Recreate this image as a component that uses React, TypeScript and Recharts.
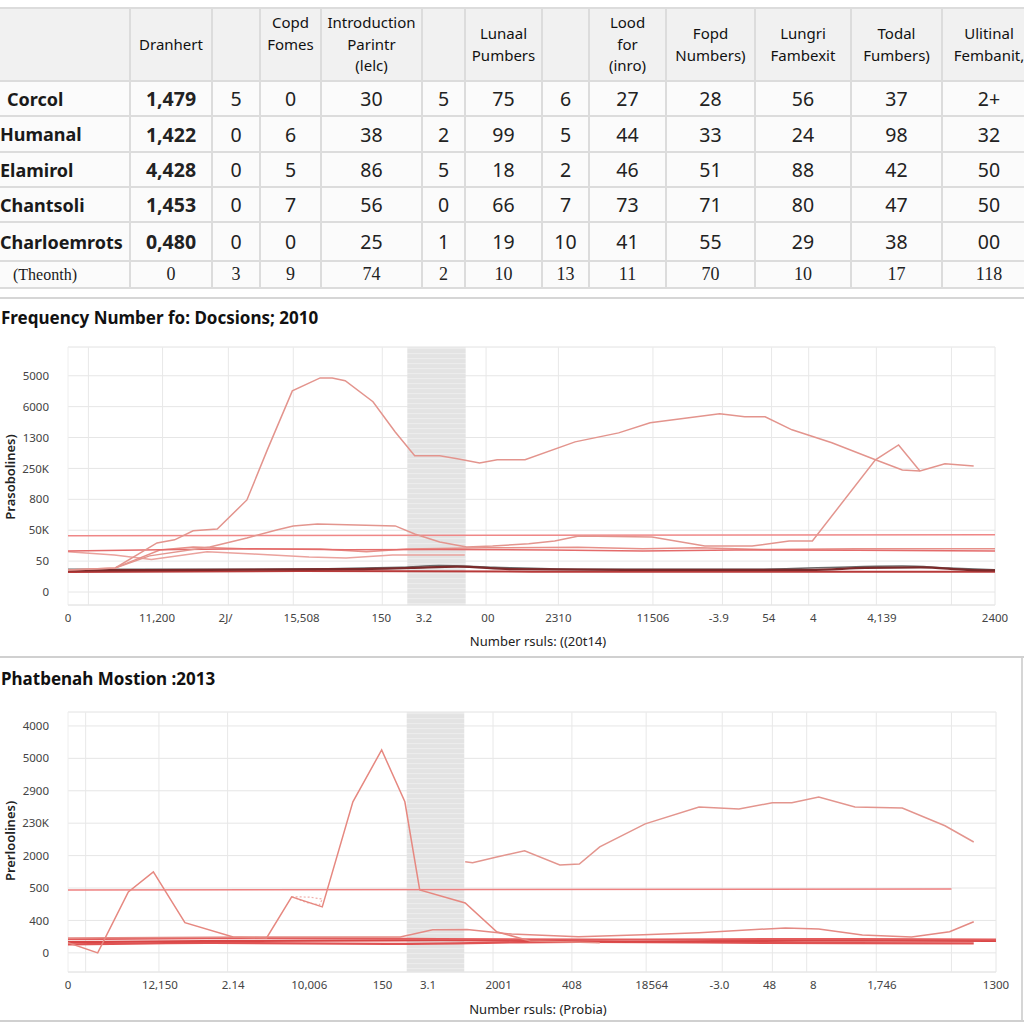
import React from 'react';
import { LineChart, Line, XAxis, YAxis, CartesianGrid, ReferenceLine, ReferenceArea } from 'recharts';

// ---------- table data ----------
const tableHeaders = ["", "Dranhert", "", "Copd\nFomes\n\u00a0", "Introduction\nParintr\n(lelc)", "", "Lunaal\nPumbers", "", "Lood\nfor\n(inro)", "Fopd\nNumbers)", "Lungri\nFambexit", "Todal\nFumbers)", "Ulitinal\nFembanit,"];
const rowLabels = ["Corcol", "Humanal", "Elamirol", "Chantsoli", "Charloemrots", "(Theonth)"];
const rowValues = [
  ["1,479", "5", "0", "30", "5", "75", "6", "27", "28", "56", "37", "2+"],
  ["1,422", "0", "6", "38", "2", "99", "5", "44", "33", "24", "98", "32"],
  ["4,428", "0", "5", "86", "5", "18", "2", "46", "51", "88", "42", "50"],
  ["1,453", "0", "7", "56", "0", "66", "7", "73", "71", "80", "47", "50"],
  ["0,480", "0", "0", "25", "1", "19", "10", "41", "55", "29", "38", "00"],
  ["0", "3", "9", "74", "2", "10", "13", "11", "70", "10", "17", "118"],
];

// ---------- chart 1 data ----------
const c1Title = "Frequency Number fo: Docsions; 2010";
const c1XLabel = "Number rsuls: ((20t14)";
const c1YLabel = "Prasobolines)";
const c1YTickLabels = ["0", "50", "50K", "800", "250K", "1300", "6000", "5000"];
const c1XTickValues = [0, 9.6, 17.0, 25.2, 33.8, 38.4, 45.3, 52.9, 63.1, 70.2, 75.6, 80.4, 87.8, 100];
const c1XTickLabels = ["0", "11,200", "2J/", "15,508", "150", "3.2", "00", "2310", "11506", "-3.9", "54", "4", "4,139", "2400"];
const c1GridX = [2.2, 10.2, 17.3, 24.3, 33.9, 45.1, 52.9, 63.1, 70.6, 75.9, 79.9, 87.2, 95.3];
const c1Band = [36.6, 42.9];

const c1Peak = [[0, 0.71], [5.1, 0.78], [9.6, 1.59], [11.5, 1.69], [13.5, 1.98], [16.1, 2.04], [19.3, 2.98], [21.5, 4.6], [24.2, 6.51], [27.2, 6.93], [28.5, 6.93], [29.9, 6.84], [32.9, 6.16], [35.3, 5.18], [37.4, 4.41], [40.1, 4.41], [42.0, 4.31], [44.4, 4.18], [46.3, 4.28], [49.3, 4.28], [54.7, 4.86], [59.4, 5.15], [62.8, 5.48], [70.3, 5.77], [73.0, 5.67], [75.2, 5.67], [78.1, 5.25], [82.4, 4.83], [87.1, 4.28], [90.0, 3.95], [91.9, 3.92], [94.6, 4.15], [97.7, 4.08]];
const c1Hump = [[0, 0.71], [5.1, 0.78], [8.8, 1.17], [15.3, 1.46], [19.3, 1.75], [22.5, 2.01], [24.3, 2.14], [26.9, 2.2], [35.3, 2.14], [37.4, 1.88], [40.1, 1.62], [43.0, 1.46], [45.8, 1.49], [49.7, 1.56], [52.5, 1.65], [55.1, 1.81], [63.0, 1.78], [68.7, 1.49], [73.8, 1.49], [77.8, 1.65], [80.3, 1.65], [87.1, 4.28], [89.6, 4.76], [91.9, 3.92]];
const c1FlatTop = [[0, 1.82], [100, 1.85]];
const c1FlatMid = [[0, 1.33], [12, 1.38], [20, 1.4], [30, 1.37], [40, 1.38], [52, 1.36], [62, 1.33], [72, 1.36], [85, 1.35], [100, 1.33]];
const c1RiseLow = [[5.1, 0.78], [9.9, 1.36], [13.5, 1.46], [19.7, 1.39], [27.2, 1.39], [32.2, 1.3], [36.6, 1.39], [45, 1.43], [55, 1.45], [62, 1.4], [68, 1.43], [75, 1.38], [85, 1.4], [100, 1.4]];
const c1Wavy = [[0, 1.3], [5, 1.2], [9, 1.05], [15, 1.3], [20, 1.23], [26, 1.13], [30, 1.1], [35, 1.2], [42.8, 1.2]];
const c1Dark1 = [[0, 0.7], [15, 0.72], [30, 0.74], [37, 0.78], [42, 0.82], [48, 0.74], [60, 0.72], [80, 0.72], [86, 0.78], [92, 0.8], [97, 0.72], [100, 0.7]];
const c1Dark2 = [[0, 0.74], [20, 0.74], [36, 0.8], [40, 0.86], [46, 0.8], [55, 0.74], [75, 0.74], [85, 0.82], [90, 0.84], [95, 0.78], [100, 0.72]];
const c1Dark3 = [[0, 0.65], [25, 0.68], [50, 0.66], [75, 0.66], [100, 0.66]];

// ---------- chart 2 data ----------
const c2Title = "Phatbenah Mostion :2013";
const c2XLabel = "Number rsuls: (Probia)";
const c2YLabel = "Prerloolines)";
const c2YTickLabels = ["0", "400", "500", "2000", "230K", "2900", "5000", "4000"];
const c2XTickValues = [0, 9.9, 17.8, 26.0, 33.9, 38.8, 46.4, 54.3, 62.9, 70.2, 75.6, 80.3, 87.7, 100];
const c2XTickLabels = ["0", "12,150", "2.14", "10,006", "150", "3.1", "2001", "408", "18564", "-3.0", "48", "8", "1,746", "1300"];
const c2GridX = [1.9, 9.8, 17.2, 45.8, 54.3, 62.3, 70.5, 75.9, 79.6, 87.1, 95.2];
const c2Band = [36.5, 42.7];

const c2Peak = [[0, 0.31], [3.2, 0.0], [6.5, 1.88], [9.2, 2.5], [12.6, 0.93], [17.8, 0.49], [21.4, 0.46], [24.1, 1.73], [27.4, 1.42], [30.7, 4.66], [33.8, 6.26], [36.3, 4.66], [37.9, 1.94], [42.8, 1.54], [46.2, 0.65], [49.8, 0.37], [57.3, 0.31]];
const c2Blob = [[24.1, 1.73], [26.0, 1.72], [27.4, 1.66], [27.1, 1.48], [25.6, 1.56], [24.6, 1.68]];
const c2Right = [[42.8, 2.81], [43.6, 2.78], [46.2, 2.96], [49.2, 3.15], [53.0, 2.71], [55.1, 2.74], [57.3, 3.27], [62.2, 3.98], [68.0, 4.5], [72.3, 4.44], [75.9, 4.63], [78.0, 4.63], [80.9, 4.81], [84.8, 4.5], [89.9, 4.47], [94.5, 3.92], [97.6, 3.42]];
const c2Flat = [[0, 1.94], [95.2, 1.97]];
const c2Hump = [[0, 0.46], [20, 0.49], [35.8, 0.49], [39.3, 0.71], [43, 0.72], [47.8, 0.58], [55, 0.5], [62, 0.56], [68, 0.62], [77.3, 0.77], [80.9, 0.74], [85.6, 0.55], [90.9, 0.49], [95, 0.65], [97.6, 0.96]];
const c2ClusterA = [[0, 0.42], [20, 0.46], [40, 0.43], [60, 0.41], [80, 0.43], [100, 0.41]];
const c2ClusterB = [[0, 0.33], [20, 0.37], [40, 0.39], [60, 0.35], [80, 0.38], [100, 0.37]];
const c2ClusterC = [[0, 0.26], [15, 0.31], [35, 0.28], [55, 0.34], [75, 0.31], [97.6, 0.29]];

const FONT = '"Noto Sans", "Open Sans", sans-serif';
const SERIF = '"Liberation Serif", "DejaVu Serif", serif';
const toPts = (arr: number[][]) => arr.map(([x, y]) => ({ x, y }));

const colWidths = [131, 82, 48, 61, 101, 43, 77, 47, 77, 89, 96, 91, 94];
const rowHeights = [35, 36, 35, 35, 39, 27];

function DataTable() {
  const border = '2px solid #dcdcdc';
  return (
    <table style={{ position: 'absolute', left: -1, top: 7, borderCollapse: 'collapse', tableLayout: 'fixed', width: 1037, fontFamily: FONT, color: '#1a1a1a' }}>
      <colgroup>{colWidths.map((w, i) => <col key={i} style={{ width: w }} />)}</colgroup>
      <thead>
        <tr style={{ height: 73, background: '#f1f1f1' }}>
          {tableHeaders.map((h, i) => (
            <th key={i} style={{ border, borderLeft: i === 0 ? 'none' : border, fontWeight: 'normal', fontSize: 15, lineHeight: '21.5px', textAlign: 'center', padding: 0, whiteSpace: 'pre-line', verticalAlign: 'middle', color: '#111' }}>{h}</th>
          ))}
        </tr>
      </thead>
      <tbody>
        {rowLabels.map((lab, r) => {
          const last = r === rowLabels.length - 1;
          return (
            <tr key={r} style={{ height: rowHeights[r], background: '#fbfbfb' }}>
              <td style={{ border, borderLeft: 'none', padding: 0, paddingLeft: last ? 14 : (r === 0 ? 8 : 1), fontSize: last ? 16 : 18, fontWeight: last ? 'normal' : 'bold', fontFamily: last ? SERIF : FONT, whiteSpace: 'nowrap' }}>{lab}</td>
              {rowValues[r].map((v, c) => (
                <td key={c} style={{ border, padding: 0, textAlign: 'center', fontSize: last ? 18 : 19.5, fontWeight: (c === 0 && !last) ? 'bold' : 'normal', fontFamily: last ? SERIF : FONT, color: '#222' }}>{v}</td>
              ))}
            </tr>
          );
        })}
      </tbody>
    </table>
  );
}

type Series = { data: number[][]; color: string; width?: number; type?: any; dash?: string };

function Chart(props: {
  top: number; height: number; marginTop: number; marginRight: number;
  yTickLabels: string[]; yDomain: [number, number];
  xTicks: number[]; xTickLabels: string[]; gridX: number[]; band: number[];
  series: Series[]; patternId: string;
}) {
  const { top, height, marginTop, marginRight, yTickLabels, yDomain, xTicks, xTickLabels, gridX, band, series, patternId } = props;
  const tickStyle = { fontSize: 11.5, fill: '#444', fontFamily: FONT };
  return (
    <div style={{ position: 'absolute', left: 0, top, width: 1024, height }}>
      <LineChart width={1024} height={height} margin={{ top: marginTop, right: marginRight, bottom: 5, left: 0 }}>
        <defs>
          <pattern id={patternId} width="8" height="5" patternUnits="userSpaceOnUse">
            <rect width="8" height="5" fill="#e3e3e3" />
            <rect y="3" width="8" height="1.2" fill="#ececec" />
          </pattern>
        </defs>
        <ReferenceArea x1={band[0]} x2={band[1]} y1={yDomain[0]} y2={yDomain[1]} fill={`url(#${patternId})`} fillOpacity={1} stroke="none" ifOverflow="hidden" />
        <CartesianGrid vertical={false} stroke="#e6e6e6" strokeWidth={1} />
        {gridX.map((gx, i) => <ReferenceLine key={'g' + i} x={gx} stroke="#e8e8e8" strokeWidth={1} />)}
        <ReferenceLine x={0} stroke="#eeeeee" />
        <ReferenceLine x={100} stroke="#e6e6e6" />
        <ReferenceLine y={yDomain[0]} stroke="#e6e6e6" />
        <ReferenceLine y={yDomain[1]} stroke="#eeeeee" />
        <XAxis dataKey="x" type="number" domain={[0, 100]} allowDataOverflow ticks={xTicks} interval={0}
          tickFormatter={(v: number) => xTickLabels[xTicks.indexOf(v)] ?? ''}
          axisLine={false} tickLine={false} tickSize={0} tickMargin={9} height={30} tick={tickStyle} />
        <YAxis type="number" domain={yDomain} allowDataOverflow ticks={[0, 1, 2, 3, 4, 5, 6, 7]} interval={0}
          tickFormatter={(v: number) => yTickLabels[v] ?? ''}
          axisLine={false} tickLine={false} tickSize={0} tickMargin={19} width={68} tick={tickStyle} />
        {series.map((s, i) => (
          <Line key={i} data={toPts(s.data)} dataKey="y" type={s.type ?? 'linear'} stroke={s.color} strokeWidth={s.width ?? 1.5}
            strokeDasharray={s.dash} dot={false} activeDot={false} isAnimationActive={false} />
        ))}
      </LineChart>
    </div>
  );
}

export default function App() {
  const c1Series: Series[] = [
    { data: c1Dark3, color: '#b83a3a', width: 2, type: 'monotone' },
    { data: c1Dark2, color: '#6b6b6b', width: 1.5, type: 'monotone' },
    { data: c1Dark1, color: '#7c2a2a', width: 2.2, type: 'monotone' },
    { data: c1Wavy, color: '#eaa29d', width: 1.5 },
    { data: c1RiseLow, color: '#e69089', width: 1.5 },
    { data: c1FlatMid, color: '#e46a6a', width: 1.5 },
    { data: c1FlatTop, color: '#ef8787', width: 1.5 },
    { data: c1Hump, color: '#e3958e', width: 1.5 },
    { data: c1Peak, color: '#e3948d', width: 1.5 },
  ];
  const c2Series: Series[] = [
    { data: c2ClusterC, color: '#e05252', width: 2.2, type: 'monotone' },
    { data: c2ClusterB, color: '#d94646', width: 2.2, type: 'monotone' },
    { data: c2ClusterA, color: '#e25c5c', width: 2, type: 'monotone' },
    { data: c2Hump, color: '#e48a84', width: 1.5 },
    { data: c2Flat, color: '#ee8080', width: 1.5 },
    { data: c2Blob, color: '#f0b0ac', width: 1.2, dash: '2 2' },
    { data: c2Peak, color: '#e68880', width: 1.5 },
    { data: c2Right, color: '#e3958e', width: 1.5 },
  ];
  return (
    <div style={{ position: 'absolute', left: 0, top: 0, width: 1024, height: 1024, overflow: 'hidden', background: '#fff', fontFamily: FONT }}>
      <DataTable />
      <div style={{ position: 'absolute', left: 0, top: 297, width: 1024, height: 2, background: '#d6d6d6' }} />

      <div style={{ position: 'absolute', left: 1, top: 306, fontSize: 17, fontWeight: 'bold', color: '#111', whiteSpace: 'nowrap' }}>{c1Title}</div>
      <Chart top={330} height={310} marginTop={17} marginRight={29}
        yTickLabels={c1YTickLabels} yDomain={[-0.42, 7.93]}
        xTicks={c1XTickValues} xTickLabels={c1XTickLabels} gridX={c1GridX} band={c1Band}
        series={c1Series} patternId="band1" />
      <div style={{ position: 'absolute', left: 10, top: 477, transform: 'translate(-50%, -50%) rotate(-90deg)', fontSize: 13, fontWeight: 600, color: '#222', whiteSpace: 'nowrap' }}>{c1YLabel}</div>
      <div style={{ position: 'absolute', left: 538, top: 641, transform: 'translate(-50%, -50%)', fontSize: 13, color: '#222', whiteSpace: 'nowrap' }}>{c1XLabel}</div>

      <div style={{ position: 'absolute', left: 0, top: 656, width: 1024, height: 2, background: '#d0d0d0' }} />
      <div style={{ position: 'absolute', left: 1021, top: 658, width: 2, height: 363, background: '#d6d6d6' }} />

      <div style={{ position: 'absolute', left: 1, top: 667, fontSize: 17, fontWeight: 'bold', color: '#111', whiteSpace: 'nowrap' }}>{c2Title}</div>
      <Chart top={695} height={312} marginTop={17} marginRight={28}
        yTickLabels={c2YTickLabels} yDomain={[-0.59, 7.43]}
        xTicks={c2XTickValues} xTickLabels={c2XTickLabels} gridX={c2GridX} band={c2Band}
        series={c2Series} patternId="band2" />
      <div style={{ position: 'absolute', left: 10, top: 841, transform: 'translate(-50%, -50%) rotate(-90deg)', fontSize: 13, fontWeight: 600, color: '#222', whiteSpace: 'nowrap' }}>{c2YLabel}</div>
      <div style={{ position: 'absolute', left: 538, top: 1009, transform: 'translate(-50%, -50%)', fontSize: 13, color: '#222', whiteSpace: 'nowrap' }}>{c2XLabel}</div>

      <div style={{ position: 'absolute', left: 0, top: 1020, width: 1024, height: 2, background: '#d0d0d0' }} />
    </div>
  );
}
